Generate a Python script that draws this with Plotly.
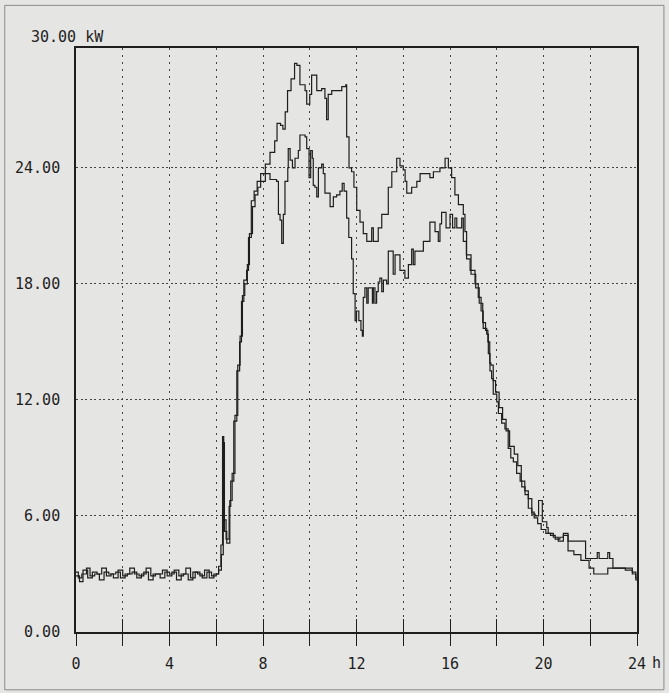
import plotly.graph_objects as go

# ---------------- data ----------------
hours_a = [0.0, 0.15, 0.3, 0.5, 0.7, 0.9, 1.1, 1.3, 1.5, 1.7, 1.9, 2.1, 2.3, 2.5, 2.7, 2.9,
           3.1, 3.3, 3.5, 3.7, 3.9, 4.1, 4.3, 4.5, 4.7, 4.9, 5.1, 5.3, 5.5, 5.7, 5.9, 6.1,
           6.2, 6.27, 6.32, 6.42, 6.55, 6.62, 6.75, 6.88, 7.0, 7.08, 7.18, 7.3, 7.38, 7.5,
           7.62, 7.75, 7.9, 8.1, 8.3, 8.5, 8.6, 8.75, 8.85, 8.95, 9.05, 9.2, 9.35, 9.45,
           9.58, 9.8, 9.87, 10.0, 10.08, 10.22, 10.3, 10.51, 10.65, 10.72, 10.79, 10.94,
           11.15, 11.37, 11.54, 11.58, 11.68, 11.79, 11.89, 12.01, 12.15, 12.29, 12.44,
           12.65, 12.72, 12.93, 13.08, 13.22, 13.36, 13.51, 13.72, 13.86, 14.0, 14.08,
           14.15, 14.36, 14.58, 14.72, 15.0, 15.14, 15.29, 15.57, 15.79, 15.93, 16.07,
           16.21, 16.36, 16.57, 16.64, 16.71, 16.86, 17.07, 17.21, 17.33, 17.42, 17.57,
           17.64, 17.71, 17.78, 17.85, 18.0, 18.07, 18.21, 18.35, 18.49, 18.6, 18.71,
           18.85, 19.0, 19.07, 19.21, 19.35, 19.5, 19.64, 19.79, 19.95, 20.14, 20.2,
           20.42, 20.63, 20.85, 21.05, 21.8, 22.3, 22.38, 22.75, 22.83, 22.97, 23.5,
           23.8, 23.95, 24.0]
kw_a = [2.9, 2.6, 3.2, 2.8, 3.1, 3.0, 3.3, 2.9, 3.0, 3.1, 2.8, 3.0, 3.3, 3.0, 2.9, 3.1,
        2.7, 3.0, 3.0, 3.2, 2.9, 3.1, 2.7, 3.0, 3.3, 2.8, 3.1, 2.9, 3.2, 2.8, 3.0, 3.4,
        4.5, 10.1, 5.8, 4.8, 6.5, 7.8, 10.9, 13.5, 15.0, 17.1, 18.2, 18.7, 20.4, 22.3,
        22.8, 23.3, 23.7, 24.2, 24.8, 25.4, 26.3, 26.2, 26.0, 26.9, 28.0, 28.6, 29.4, 29.3,
        28.3, 28.0, 27.3, 27.8, 28.8, 28.8, 28.0, 28.1, 27.6, 26.5, 27.8, 28.0,
        28.0, 28.2, 28.3, 25.6, 24.0, 23.8, 23.0, 21.8, 21.2, 20.6, 20.2,
        20.9, 20.2, 20.9, 21.6, 21.6, 23.0, 23.8, 24.5, 24.1, 23.9, 23.3,
        22.7, 23.0, 23.3, 23.7, 23.7, 23.5, 23.8, 24.0, 24.5, 24.0, 23.5,
        22.6, 22.1, 21.6, 20.7, 19.3, 18.7, 18.0, 17.3, 16.6, 15.7, 15.4,
        14.4, 13.5, 13.1, 12.3, 11.9, 11.3, 10.8, 10.5, 9.5, 9.0, 8.8,
        8.2, 7.8, 7.5, 7.1, 6.4, 6.1, 6.0, 6.8, 5.7, 5.4, 5.1,
        4.9, 4.7, 5.1, 4.7, 3.8, 4.1, 3.8, 4.1, 3.8, 3.3, 3.2,
        3.0, 2.8, 2.8]

hours_b = [0.0, 0.1, 0.25, 0.45, 0.6, 0.8, 1.0, 1.2, 1.4, 1.6, 1.8, 2.0, 2.2, 2.4, 2.6, 2.8,
           3.0, 3.2, 3.4, 3.6, 3.8, 4.0, 4.2, 4.4, 4.6, 4.8, 5.0, 5.2, 5.4, 5.6, 5.8, 6.0,
           6.1, 6.22, 6.3, 6.35, 6.45, 6.58, 6.68, 6.8, 6.92, 7.02, 7.12, 7.22, 7.33, 7.42,
           7.55, 7.66, 7.78, 7.9, 8.1, 8.3, 8.58, 8.66, 8.73, 8.8, 8.87, 8.94, 9.06, 9.08,
           9.16, 9.26, 9.37, 9.51, 9.58, 9.8, 9.87, 9.97, 10.04, 10.11, 10.15, 10.22, 10.3,
           10.37, 10.51, 10.58, 10.65, 10.87, 11.01, 11.15, 11.29, 11.39, 11.47, 11.58,
           11.67, 11.79, 11.86, 11.94, 12.0, 12.1, 12.19, 12.25, 12.29, 12.36, 12.44, 12.5,
           12.62, 12.68, 12.72, 12.79, 12.86, 12.93, 13.0, 13.08, 13.15, 13.29, 13.36,
           13.51, 13.57, 13.65, 13.79, 13.86, 14.07, 14.22, 14.36, 14.43, 14.5, 14.86,
           15.14, 15.36, 15.5, 15.57, 15.64, 15.83, 16.0, 16.11, 16.21, 16.29, 16.5, 16.57,
           16.7, 16.9, 17.1, 17.25, 17.4, 17.52, 17.62, 17.7, 17.75, 17.85, 17.95, 18.1,
           18.25, 18.4, 18.55, 18.75, 18.9, 19.05, 19.2, 19.35, 19.5, 19.6, 19.75, 19.9,
           20.1, 20.3, 20.5, 20.7, 20.85, 21.05, 21.3, 21.6, 21.95, 22.15, 22.6, 22.75,
           23.5, 23.8, 23.95, 24.0]
kw_b = [3.1, 2.8, 3.0, 3.3, 2.9, 3.0, 2.7, 3.1, 3.0, 2.8, 3.2, 2.9, 3.0, 3.1, 2.8, 3.0,
        3.3, 2.9, 3.0, 2.8, 3.1, 3.0, 3.2, 2.9, 3.0, 2.7, 3.1, 3.0, 2.8, 3.1, 2.9, 3.0,
        3.2, 4.0, 9.8, 5.2, 4.6, 6.8, 8.2, 11.2, 13.8, 15.3, 17.4, 18.0, 19.0, 20.6,
        22.0, 22.6, 23.0, 23.3, 23.7, 23.4, 23.3, 21.6, 21.3, 20.1, 21.6, 23.3, 24.0, 25.0,
        24.4, 24.0, 24.5, 24.9, 25.7, 25.6, 25.0, 23.5, 24.9, 24.5, 23.1, 23.0, 22.5,
        24.0, 24.2, 23.7, 22.7, 22.0, 22.5, 22.6, 22.8, 23.2, 22.8, 21.4,
        20.4, 19.3, 17.5, 16.1, 16.6, 16.1, 15.6, 15.3, 17.3, 17.8, 17.0, 17.8,
        17.8, 17.0, 17.8, 17.0, 17.6, 18.1, 18.3, 17.6, 18.2, 18.0, 19.7,
        19.7, 18.5, 19.5, 19.5, 18.7, 18.3, 19.0, 19.8, 19.0, 19.7, 20.2,
        21.2, 20.7, 20.2, 21.1, 21.7, 20.9, 21.6, 20.9, 21.4, 20.9, 21.4, 20.2,
        19.5, 18.5, 17.8, 17.0, 16.0, 15.6, 15.0, 13.9, 13.8, 13.0, 12.4, 11.6,
        11.0, 10.4, 9.6, 9.2, 8.6, 7.8, 7.3, 6.9, 6.2, 5.9, 5.6, 5.3,
        5.1, 5.0, 4.8, 4.9, 5.0, 4.2, 4.0, 3.7, 3.3, 3.0, 3.0, 3.3,
        3.3, 3.1, 2.7, 2.7]

x_tick_vals = [0, 2, 4, 6, 8, 10, 12, 14, 16, 18, 20, 22, 24]
x_tick_text = ["0", "", "4", "", "8", "", "12", "", "16", "", "20", "", "24"]
y_tick_vals = [0, 6, 12, 18, 24]
y_tick_text = ["0.00", "6.00", "12.00", "18.00", "24.00"]

# ---------------- figure ----------------
FONT = "DejaVu Sans Mono"
INK = "#1e1e1e"
BG = "#e5e5e3"

fig = go.Figure()
fig.add_trace(go.Scatter(x=hours_a, y=kw_a, mode="lines", line_shape="hv",
                         line=dict(color=INK, width=1.2), showlegend=False))
fig.add_trace(go.Scatter(x=hours_b, y=kw_b, mode="lines", line_shape="hv",
                         line=dict(color=INK, width=1.2), showlegend=False,
                         xaxis="x2"))

fig.update_layout(
    width=669, height=693,
    margin=dict(l=76, r=32, t=48, b=61),
    paper_bgcolor=BG, plot_bgcolor=BG,
    font=dict(family=FONT, size=15, color=INK),
    xaxis=dict(range=[0, 24], tickvals=x_tick_vals, ticktext=x_tick_text,
               ticks="outside", ticklen=12, tickcolor=INK, tickwidth=1,
               showline=True, linecolor=INK, linewidth=1.6, mirror=True,
               showgrid=True, gridcolor="#444", gridwidth=1, griddash="1.5px,5.5px",
               zeroline=False, ticklabelstandoff=5, fixedrange=True),
    xaxis2=dict(range=[0, 24], overlaying="x", side="bottom", anchor="y",
                tickvals=x_tick_vals, ticks="inside", ticklen=13, tickcolor=INK,
                tickwidth=1, showticklabels=False, showgrid=False, showline=False,
                zeroline=False),
    yaxis=dict(range=[0, 30.2], tickvals=y_tick_vals, ticktext=y_tick_text,
               ticks="", showline=True, linecolor=INK, linewidth=1.6, mirror=True,
               showgrid=True, gridcolor="#444", gridwidth=1, griddash="2px,2.5px",
               zeroline=False, ticklabelstandoff=11),
)

fig.add_annotation(text="30.00 kW", xref="paper", yref="paper", x=-0.083, y=1.019,
                   xanchor="left", yanchor="middle", showarrow=False,
                   font=dict(family=FONT, size=15, color=INK))
fig.add_annotation(text="h", xref="paper", yref="paper", x=1.024, y=-0.053,
                   xanchor="left", yanchor="middle", showarrow=False,
                   font=dict(family=FONT, size=15, color=INK))
# outer frame of the picture
fig.add_shape(type="rect", xref="paper", yref="paper",
              x0=-0.127, x1=1.048, y0=-0.099, y1=1.073,
              line=dict(color="#8a8a8a", width=1))

fig.write_html("out.html", config={"displayModeBar": False},
               post_script="document.body.style.margin='0';document.body.style.overflow='hidden';")
